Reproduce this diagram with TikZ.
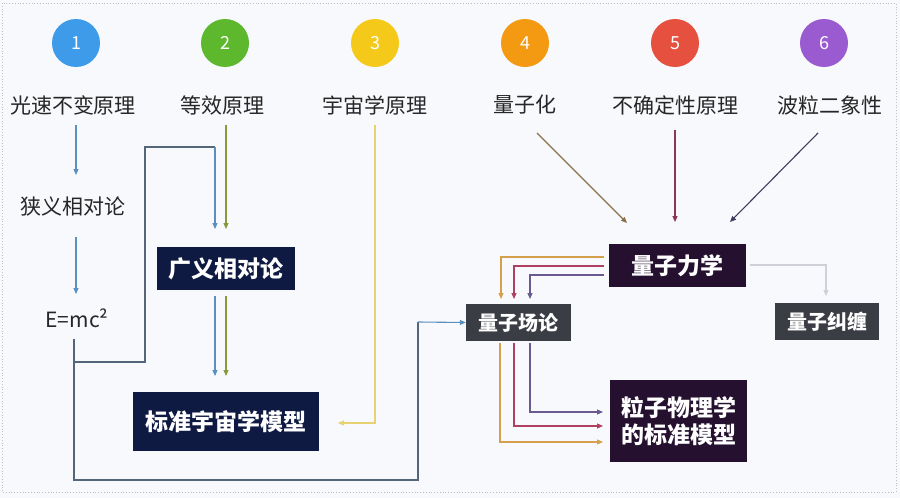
\documentclass[tikz,border=0pt]{standalone}
\usepackage{fontspec}
\setmainfont{Noto Sans CJK SC}
\usetikzlibrary{arrows.meta}
\definecolor{bg}{HTML}{F7F9FC}
\definecolor{c1}{HTML}{3D9BE9}
\definecolor{c2}{HTML}{5DB82E}
\definecolor{c3}{HTML}{F5C91A}
\definecolor{c4}{HTML}{F39A12}
\definecolor{c5}{HTML}{E5503F}
\definecolor{c6}{HTML}{9B5BD0}
\definecolor{navy}{HTML}{0E1A42}
\definecolor{plum}{HTML}{25112F}
\definecolor{slate}{HTML}{3A3D44}
\definecolor{blueline}{HTML}{5B8FC0}
\definecolor{darkline}{HTML}{55657A}
\definecolor{greenline}{HTML}{8A9A3A}
\definecolor{yellowline}{HTML}{E6D270}
\definecolor{orangeline}{HTML}{D4A04C}
\definecolor{redline}{HTML}{B04060}
\definecolor{purpleline}{HTML}{6A5A90}
\definecolor{grayline}{HTML}{CFD0D8}
\definecolor{brownline}{HTML}{8A7048}
\definecolor{wineline}{HTML}{8E3454}
\definecolor{inkline}{HTML}{3E3C5C}
\begin{document}
\begin{tikzpicture}[x=1pt,y=-1pt,
  numcirc/.style={circle,minimum size=48pt,inner sep=0pt,text=white,font=\fontsize{18}{18}\selectfont},
  toplabel/.style={inner sep=0pt,font=\fontsize{21}{21}\selectfont,text=black!85},
  darkbox/.style={inner sep=0pt,text=white,font=\bfseries\fontsize{23}{27}\selectfont,align=center},
  conn/.style={line width=1.1pt,-{Triangle[length=6pt,width=5pt]}},
  plain/.style={line width=1.1pt}]
\fill[bg] (0,0) rectangle (900,498);
\useasboundingbox (0,0) rectangle (900,498);
\draw[black!25,dotted,line width=0.8pt] (2,3) rectangle (896,492);

% numbered circles
\node[numcirc,fill=c1] (n1) at (76,43) {1};
\node[numcirc,fill=c2] (n2) at (225,43) {2};
\node[numcirc,fill=c3] (n3) at (375,43) {3};
\node[numcirc,fill=c4] (n4) at (525,43) {4};
\node[numcirc,fill=c5] (n5) at (675,43) {5};
\node[numcirc,fill=c6] (n6) at (824,43) {6};

% top labels
\node[toplabel] (l1) at (73,105) {光速不变原理};
\node[toplabel] (l2) at (222,105) {等效原理};
\node[toplabel] (l3) at (375,105) {宇宙学原理};
\node[toplabel] (l4) at (525,105) {量子化};
\node[toplabel] (l5) at (675,105) {不确定性原理};
\node[toplabel] (l6) at (830,105) {波粒二象性};

\node[toplabel] (sr) at (73,206) {狭义相对论};
\node[toplabel] (emc) at (77,318) {E=mc²};

% dark boxes
\node[darkbox,fill=navy,minimum width=138pt,minimum height=43pt] (gr) at (226,268.5) {广义相对论};
\node[darkbox,fill=navy,minimum width=186pt,minimum height=59pt] (scm) at (226,421.5) {标准宇宙学模型};
\node[darkbox,fill=plum,minimum width=137pt,minimum height=43pt] (qm) at (677.5,265.5) {量子力学};
\node[darkbox,fill=slate,minimum width=105pt,minimum height=37pt,font=\bfseries\fontsize{20}{20}\selectfont] (qft) at (518.5,322.5) {量子场论};
\node[darkbox,fill=slate,minimum width=104pt,minimum height=37pt,font=\bfseries\fontsize{20}{20}\selectfont] (qe) at (827,321.5) {量子纠缠};
\node[darkbox,fill=plum,minimum width=137pt,minimum height=82pt] (sm) at (678.5,421) {粒子物理学\\的标准模型};

% left column
\draw[conn,blueline] (76,125) -- (76,175);
\draw[conn,blueline] (76,237) -- (76,294);
\draw[plain,darkline] (74,339) -- (74,480) -- (418,480) -- (418,322);
\draw[conn,blueline] (418,322) -- (qft.west);
\draw[plain,darkline] (74,362) -- (145,362) -- (145,147) -- (215,147);
\draw[conn,blueline] (215,147) -- (215,229);
\draw[conn,greenline] (226,125) -- (226,229);
\draw[conn,blueline] (215,296) -- (215,376);
\draw[conn,greenline] (226,296) -- (226,376);
\draw[conn,yellowline] (375,125) -- (375,423) -- (338,423);

% quantum mechanics inputs
\draw[conn,brownline] (537,133) -- (627,223);
\draw[conn,wineline] (675,130) -- (675,222);
\draw[conn,inkline] (818,133) -- (730,222);

% QM to QFT
\draw[conn,orangeline] (604,257) -- (501,257) -- (501,299);
\draw[conn,redline] (604,266) -- (514,266) -- (514,299);
\draw[conn,purpleline] (604,275) -- (530,275) -- (530,299);
\draw[conn,grayline] (750,265) -- (826,265) -- (826,296);

% QFT to SM
\draw[conn,orangeline] (500,343) -- (500,442) -- (603,442);
\draw[conn,redline] (514,343) -- (514,426) -- (603,426);
\draw[conn,purpleline] (530,343) -- (530,412) -- (603,412);
\end{tikzpicture}
\end{document}
